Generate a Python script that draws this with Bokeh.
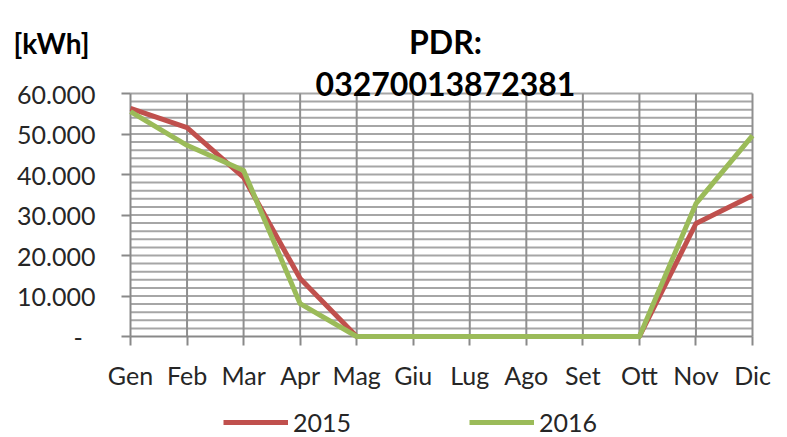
from bokeh.plotting import figure
from bokeh.models import FixedTicker, Range1d, LinearAxis, Legend, LegendItem
from bokeh.core.properties import value
from bokeh.embed import file_html
from bokeh.resources import INLINE

# ---------------- data ----------------
months = ["Gen", "Feb", "Mar", "Apr", "Mag", "Giu", "Lug", "Ago", "Set", "Ott", "Nov", "Dic"]
kwh_2015 = [56300, 51600, 39300, 14300, 0, 0, 0, 0, 0, 0, 27900, 34800]
kwh_2016 = [55500, 47200, 41000, 8100, 0, 0, 0, 0, 0, 0, 32800, 49600]
y_ticks = [0, 10000, 20000, 30000, 40000, 50000, 60000]
y_minor_step = 2000
y_tick_labels = ["-\u00a0\u00a0", "10.000", "20.000", "30.000", "40.000", "50.000", "60.000"]
series_names = ["2015", "2016"]
title_lines = ["PDR:", "03270013872381"]
unit_label = "[kWh]"

# ---------------- layout (pixels) ----------------
W, H = 787, 437
PX_LEFT, PX_RIGHT = 130, 752      # first / last category
PX_TOP, PX_ZERO = 93, 336         # y max / y zero
FONT = "Lato"
RED = "#c0504d"
GREEN = "#9bbb59"
GRID_H = "#a6a6a6"
GRID_V = "#8f8f8f"
AXIS = "#898989"

x = list(range(len(months)))
y_max = y_ticks[-1]
xs = (len(months) - 1) / (PX_RIGHT - PX_LEFT)
ys = y_max / (PX_ZERO - PX_TOP)


def dx(px):
    return (px - PX_LEFT) * xs


def dy(py):
    return (PX_ZERO - py) * ys


p = figure(width=W, height=H, output_backend="svg", toolbar_location=None,
           x_range=Range1d(dx(0), dx(W)), y_range=Range1d(dy(H), dy(0)),
           x_axis_type=None, y_axis_type=None, min_border=0)
p.outline_line_color = None
p.grid.visible = False

# ---------------- grid lines (from the tick lists) ----------------
minor = [v for v in range(y_minor_step, y_max + 1, y_minor_step)]
p.segment(x0=[x[0]] * len(minor), y0=minor, x1=[x[-1]] * len(minor), y1=minor,
          line_color=GRID_H, line_width=2, level="underlay")
p.segment(x0=x[1:], y0=[0] * (len(x) - 1), x1=x[1:], y1=[y_max] * (len(x) - 1),
          line_color=GRID_V, line_width=2, level="underlay")

# ---------------- axes ----------------
xaxis = LinearAxis(fixed_location=0, bounds=(x[0], x[-1]), ticker=FixedTicker(ticks=x),
                   major_label_overrides={i: m for i, m in enumerate(months)})
yaxis = LinearAxis(fixed_location=x[0], bounds=(0, y_max), ticker=FixedTicker(ticks=y_ticks),
                   major_label_overrides={t: l for t, l in zip(y_ticks, y_tick_labels)})
for ax in (xaxis, yaxis):
    ax.axis_line_color = AXIS
    ax.axis_line_width = 2
    ax.major_tick_line_color = AXIS
    ax.major_tick_line_width = 2
    ax.major_tick_out = 9
    ax.major_tick_in = 0
    ax.minor_tick_line_color = None
    ax.major_label_text_font = FONT
    ax.major_label_text_font_size = "25px"
    ax.major_label_text_color = "#262626"
xaxis.major_label_standoff = 14
yaxis.major_label_standoff = 26
p.add_layout(xaxis, "below")
p.add_layout(yaxis, "left")

# ---------------- series ----------------
r1 = p.line(x, kwh_2015, line_color=RED, line_width=5, line_join="round", level="overlay")
r2 = p.line(x, kwh_2016, line_color=GREEN, line_width=5, line_join="round", level="overlay")

legend = Legend(items=[LegendItem(label=series_names[0], renderers=[r1]),
                       LegendItem(label=series_names[1], renderers=[r2])],
                orientation="horizontal", location=(223, 0),
                padding=0, margin=0, spacing=118, glyph_width=65, glyph_height=20,
                label_height=20, label_standoff=5, label_text_font=FONT,
                label_text_font_size="25px", label_text_color="#262626",
                border_line_color=None, background_fill_alpha=0)
p.add_layout(legend, "center")

# ---------------- texts ----------------
p.text(x=[dx(13)], y=[dy(42)], text=[unit_label], text_font=value(FONT),
       text_font_size="28px", text_font_style="bold", text_color="#000000",
       text_baseline="alphabetic", text_align="left")
p.text(x=[dx(445), dx(445)], y=[dy(41), dy(83)], text=title_lines, text_font=value(FONT),
       text_font_size="32px", text_font_style="bold", text_color="#000000",
       text_align="center", text_baseline="alphabetic")

open("out.html", "w").write(file_html(p, INLINE))
